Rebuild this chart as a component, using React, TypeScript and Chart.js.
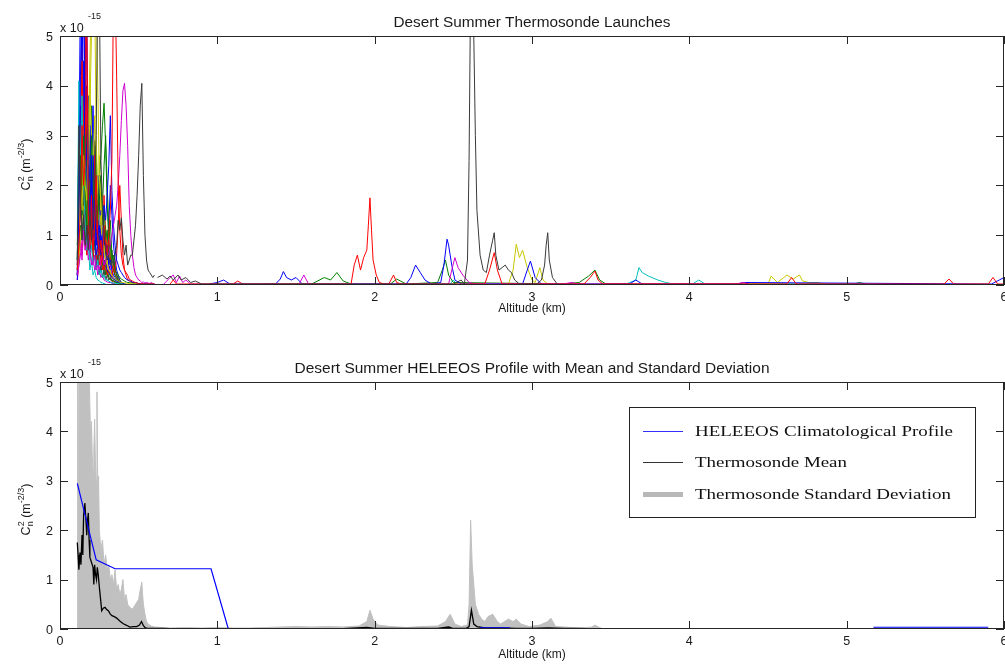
import React, { useEffect, useRef } from 'react';
import { Chart, registerables } from 'chart.js';

Chart.register(...registerables);

// ---------- axis ticks ----------
const xTicks = [0, 1, 2, 3, 4, 5, 6];
const yTicks = [0, 1, 2, 3, 4, 5];

// ---------- top chart: thermosonde launches (altitude km, Cn2 in units of 1e-15) ----------
// shared altitude grid of the near-ground part of every launch
const lowAlt = [0.11,0.12,0.13,0.14,0.15,0.16,0.17,0.18,0.19,0.2,0.21,0.22,0.23,0.24,0.25,0.26,0.27,0.28,0.29,0.3,0.31,0.32,0.33,0.34,0.35,0.36,0.37,0.38,0.39,0.4,0.41,0.42,0.43,0.44,0.45,0.46,0.47,0.48,0.49,0.5,0.51,0.52,0.53,0.54,0.55,0.56,0.57,0.58,0.59,0.6];

const blackALow = [0.5,3.2,1.8,0.9,1.4,0.8,1.2,0.7,1.5,0.9, 1.3,2.0,3.0,6.0,6.0,2.5,1.6,1.0,0.7,0.5, 0.6,0.4,0.5,0.4,0.6,0.8,1.3,1.1,1.35,0.9, 0.6,0.8,0.4,0.5,0.6,0.6,0.9,1.2,1.8,2.6, 3.6,4.05,2.2,1.0,0.5,0.3,0.25,0.2,0.15,0.2];
const blackAHighAlt = [0.62,0.65,0.68,0.7,0.72,0.75,0.77,0.8,0.83,0.86,0.9, 2.5,2.55,2.57,2.59,2.6,2.61,2.62,2.63,2.64,2.65,2.67,2.69,2.71,2.73,2.75,2.76,2.77,2.79,2.81,2.83,2.85,2.87,2.89,2.92, 3.03,3.06,3.08,3.09,3.1,3.11,3.13,3.16];
const blackAHighVal = [0.15,0.2,0.12,0.18,0.1,0.2,0.1,0.15,0.05,0.08,0.02, 0.02,0.1,0.02,0.5,2.5,6.0,6.0,5.0,3.0,1.5,0.6,0.3,0.25,0.6,0.9,1.05,0.6,0.3,0.35,0.4,0.3,0.25,0.1,0.02, 0.02,0.1,0.4,0.8,1.05,0.5,0.15,0.02];

const redALow = [0.3,0.8,1.5,3.2,2.0,2.5,6.0,1.4,0.9,1.8, 0.7,1.2,2.2,1.0,0.6,0.9,0.5,1.2,0.8,0.6, 1.0,1.5,2.5,6.0,6.0,4.2,2.0,1.1,0.6,0.4, 0.3,0.25,0.2,0.12,0.1,0.08,0.06,0.05,0.04,0.03, 0.02,0.03,0.02,0.02,0.02,0.02,0.02,0.02,0.02,0.02];
const redAHighAlt = [0.7,0.72,0.74, 1.1,1.13,1.16, 1.85,1.87,1.89,1.91,1.93,1.95,1.96,1.97,1.98,1.99,2.01,2.03,2.06,2.09,2.12,2.14,2.17, 2.7,2.73,2.76,2.78,2.81, 3.33,3.37,3.4,3.42,3.45, 4.62,4.65,4.68, 5.62,5.65,5.68, 5.9,5.93,5.96,6.0];
const redAHighVal = [0.02,0.1,0.02, 0.02,0.08,0.02, 0.02,0.4,0.6,0.3,0.55,0.7,1.2,1.75,1.1,0.5,0.2,0.05,0.02,0.02,0.2,0.05,0.02, 0.02,0.3,0.65,0.3,0.02, 0.02,0.15,0.28,0.1,0.02, 0.02,0.15,0.02, 0.02,0.12,0.02, 0.02,0.15,0.02,0.02];

const magentaALow = [0.2,0.4,0.6,0.9,1.1,0.7,0.8,1.0,0.7,0.5, 0.4,0.6,0.3,0.4,0.3,0.5,0.6,0.4,0.5,0.6, 0.6,0.8,1.0,1.2,1.4,1.6,2.0,2.6,3.3,3.9, 4.05,3.6,2.8,1.6,1.0,0.6,0.35,0.2,0.15,0.1, 0.08,0.05,0.06,0.04,0.05,0.04,0.03,0.05,0.03,0.02];
const magentaAHighAlt = [0.66,0.7,0.72,0.74,0.76,0.78,0.8,0.83, 1.52,1.55,1.58, 2.47,2.49,2.51,2.53,2.56,2.6,2.64, 3.2,3.25,3.3, 4.3,4.34,4.38];
const magentaAHighVal = [0.02,0.15,0.2,0.05,0.18,0.05,0.1,0.02, 0.02,0.2,0.02, 0.02,0.3,0.55,0.35,0.2,0.05,0.02, 0.02,0.05,0.02, 0.02,0.05,0.02];

const blueALow = [0.2,1.5,4.2,6.0,6.0,3.1,5.5,2.0,1.2,2.6, 1.1,1.7,0.8,1.3,0.6,1.0,0.8,1.6,1.3,1.8, 2.4,3.4,1.9,1.2,0.8,0.5,0.4,0.3,0.25,0.2, 0.15,0.12,0.1,0.1,0.08,0.06,0.05,0.05,0.04,0.03, 0.03,0.02,0.02,0.03,0.02,0.02,0.02,0.02,0.02,0.02];
const blueAHighAlt = [0.95,1.0,1.04,1.08, 1.37,1.4,1.42,1.44,1.47,1.5,1.54, 2.2,2.23,2.26,2.29,2.32,2.36,2.42,2.44,2.46,2.47,2.49,2.51,2.55, 2.94,2.97,2.99,3.02,3.06, 3.62,3.66,3.7, 4.3,4.35, 5.88,5.92,5.97,6.0];
const blueAHighVal = [0.02,0.05,0.1,0.02, 0.02,0.12,0.27,0.15,0.1,0.15,0.02, 0.02,0.15,0.4,0.25,0.1,0.02,0.05,0.4,0.92,0.8,0.4,0.1,0.02, 0.02,0.3,0.48,0.15,0.02, 0.02,0.1,0.02, 0.02,0.05, 0.02,0.02,0.1,0.15];

const yellowALow = [0.3,0.8,2.0,1.5,2.6,2.0,1.7,3.1,4.5,6.0, 6.0,6.0,6.0,4.0,2.2,1.6,1.0,0.7,0.5,0.4, 0.3,0.25,0.2,0.15,0.12,0.1,0.08,0.06,0.05,0.05, 0.04,0.04,0.03,0.03,0.03,0.02,0.02,0.03,0.02,0.02, 0.02,0.02,0.02,0.02,0.02,0.02,0.02,0.02,0.02,0.02];
const yellowAHighAlt = [2.85,2.88,2.9,2.92,2.94,2.97,3.0,3.02,3.05,3.07,3.1, 4.5,4.52,4.56,4.6,4.62,4.66,4.7,4.72,4.76,4.82,4.85];
const yellowAHighVal = [0.02,0.3,0.82,0.55,0.7,0.35,0.1,0.05,0.35,0.1,0.02, 0.02,0.18,0.05,0.15,0.2,0.12,0.2,0.08,0.05,0.05,0.02];

const greenALow = [0.5,1.8,2.6,1.4,3.0,2.0,1.2,2.4,1.5,3.0, 1.9,1.0,1.6,1.2,2.1,2.6,3.2,3.65,2.8,1.6, 0.9,1.3,0.6,0.5,0.3,0.25,0.2,0.15,0.12,0.1, 0.08,0.06,0.05,0.05,0.04,0.04,0.03,0.03,0.02,0.02, 0.02,0.02,0.02,0.02,0.02,0.02,0.02,0.02,0.02,0.02];
const greenAHighAlt = [1.3,1.6,1.68,1.72,1.76,1.8,1.85, 2.1,2.14,2.2, 2.4,2.43,2.45,2.47,2.5, 3.2,3.3,3.36,3.4,3.43,3.47,3.55, 5.05,5.08,5.12];
const greenAHighVal = [0.02,0.02,0.15,0.1,0.25,0.08,0.02, 0.02,0.12,0.02, 0.05,0.3,0.5,0.2,0.05, 0.02,0.05,0.18,0.3,0.1,0.02,0.02, 0.02,0.05,0.02];

const cyanALow = [1.0,4.1,2.5,3.8,2.0,1.2,0.7,1.0,0.5,0.8, 0.4,0.6,0.3,0.5,0.2,0.3,0.15,0.2,0.1,0.1, 0.08,0.06,0.05,0.04,0.04,0.03,0.03,0.02,0.02,0.02];
const cyanAHighAlt = [2.48,2.5,2.52, 3.6,3.66,3.68,3.7,3.74,3.8,3.85,3.9, 4.02,4.06,4.1];
const cyanAHighVal = [0.02,0.1,0.02, 0.02,0.1,0.35,0.25,0.18,0.1,0.05,0.02, 0.02,0.1,0.02];

const blueBLow = [0.1,2.5,6.0,4.5,6.0,2.8,2.0,1.6,1.2,1.7, 0.9,1.1,0.6,0.8,1.2,0.6,0.8,0.4,0.5,0.3, 0.25,0.2,0.15,0.12,0.1,0.08,0.06,0.05,0.04,0.03, 0.03,0.02];
const redBLow = [0.2,1.0,2.2,4.8,2.0,1.0,0.6,1.2,0.8,1.5, 0.5,2.6,1.2,0.7,0.9,0.4,0.6,0.3,0.5,0.2, 0.3,0.2,0.15,0.4,0.25,0.6,1.2,2.0,1.3,0.6, 0.3,0.2,0.1,0.08,0.06,0.05,0.04,0.03,0.03,0.02];
const greenBLow = [0.3,1.2,1.8,2.3,1.6,2.0,2.5,1.4,1.0,1.5, 0.8,1.2,1.9,1.0,0.6,0.8,0.4,0.5,0.2,0.3, 0.15,0.12,0.1,0.08,0.06,0.05,0.04,0.03,0.02,0.02];
const yellowBLow = [0.2,0.5,0.9,1.3,1.6,2.4,1.2,2.0,3.5,5.0, 6.0,6.0,3.0,1.8,1.0,1.4,0.6,0.8,0.4,0.5, 0.2,0.3,0.15,0.1,0.1,0.08,0.05,0.04,0.03,0.02];
const blackBLow = [0.4,2.9,1.8,1.0,1.3,1.9,0.8,1.4,0.6,1.0, 0.5,0.9,0.3,0.6,0.2,0.4,0.15,0.3,0.1,0.2, 0.1,0.15,0.08,0.1,0.06,0.05,0.04,0.03,0.02,0.02];
const magentaBLow = [0.1,0.4,0.9,0.5,1.1,0.7,0.9,0.5,0.7,0.4, 0.6,0.3,0.5,0.2,0.3,0.15,0.2,0.1,0.08,0.06, 0.05,0.05,0.04,0.03,0.02];
const cyanBLow = [0.5,3.2,1.5,2.2,0.9,1.4,0.6,0.8,0.3,0.5, 0.2,0.3,0.15,0.1,0.08,0.05,0.04,0.03,0.02];
const greenCLow = [0.2,0.6,1.2,0.9,1.6,2.2,1.4,0.8,1.3,0.9, 1.5,2.1,1.2,0.7,1.0,0.5,0.6,0.3,0.4,0.2, 0.3,0.15,0.1,0.08,0.05,0.04,0.03,0.02];
const blueCLow = [0.2,0.9,1.6,1.1,2.3,1.5,0.9,1.8,3.2,2.0, 1.4,1.9,1.0,1.6,0.8,1.2,0.6,0.9,0.5,0.7, 0.4,0.3,0.2,0.15,0.1,0.08,0.05,0.04,0.03,0.02];
const redCLow = [0.1,0.5,0.9,0.6,1.2,0.8,1.6,0.9,2.1,1.2, 0.7,1.0,0.5,0.8,0.4,0.6,0.3,0.5,0.2,0.3, 0.15,0.1,0.08,0.06,0.05,0.04,0.03,0.02];
const blueDLow = [0.3,2.2,3.6,2.8,4.5,3.0,2.4,3.8,2.0,1.4, 2.6,1.8,1.2,2.2,1.0,1.5,0.7,1.1,0.5,0.8, 0.4,0.5,0.3,0.2,0.15,0.1,0.08,0.05,0.04,0.03];
const greenDLow = [0.8,2.0,3.4,2.2,1.6,3.5,2.6,1.9,2.9,2.0, 2.4,1.5,2.8,1.3,1.8,2.2,1.2,1.6,0.9,1.1, 0.6,0.8,0.4,0.3,0.2,0.15,0.1,0.06,0.04,0.03];
const redDLow = [0.4,1.6,2.8,2.0,3.4,5.2,2.6,1.8,3.0,2.2, 1.4,2.0,1.1,1.6,0.9,1.3,0.7,1.8,1.0,0.6, 0.9,0.5,0.4,0.3,0.2,0.15,0.1,0.05,0.03,0.02];
const yellowDLow = [0.5,1.4,2.2,3.0,2.4,1.8,3.2,2.6,4.0,3.0, 2.2,3.4,2.0,1.5,2.6,1.2,1.8,0.9,1.2,0.7, 0.5,0.8,0.4,0.3,0.2,0.12,0.08,0.05,0.03,0.02];
const cyanDLow = [0.8,2.6,3.4,2.0,2.8,1.6,2.2,1.2,1.7,0.9, 1.3,0.7,1.0,0.5,0.6,0.3,0.4,0.2,0.15,0.1, 0.08,0.05,0.04,0.03,0.02];
const blackDLow = [0.6,2.0,3.0,2.2,1.5,2.7,1.8,2.4,1.3,2.0, 1.6,2.9,1.9,1.2,1.7,1.0,1.4,0.8,1.1,0.6, 0.9,0.5,0.7,0.4,0.3,0.2,0.15,0.1,0.05,0.03];
const magentaDLow = [0.3,0.9,1.8,1.2,2.4,1.6,2.0,1.3,2.6,1.5, 1.0,1.7,0.8,1.3,0.6,1.0,0.5,0.8,0.4,0.6, 0.3,0.4,0.2,0.15,0.1,0.05,0.03,0.02];
const blueELow = [0.2,1.0,3.0,5.0,3.6,2.2,4.0,2.8,1.6,2.4, 3.6,2.0,1.4,1.0,2.0,1.2,0.8,1.1,0.6,0.9, 1.2,2.0,1.4,0.8,0.5,0.3,0.2,0.1,0.05,0.03];
const greenELow = [0.4,1.1,1.9,2.6,3.8,2.4,1.7,3.0,2.2,3.6, 2.5,1.8,2.3,1.4,1.9,1.1,1.6,2.4,3.0,2.0, 1.2,0.8,0.5,0.6,0.3,0.2,0.1,0.06,0.04,0.02];

// ---------- bottom chart ----------
const heleeosAlt = [0.11,0.23,0.35,0.96,1.07,1.08,2.67,2.86,2.87,5.17,5.9];
const heleeosVal = [2.95,1.4,1.22,1.22,0,null,0.025,0.025,null,0.035,0.035];

const meanAlt = [0.11,0.115,0.12,0.127,0.133,0.14,0.145,0.15,0.158,0.165,0.17,0.175,0.18,0.185,0.19,0.2,0.21,0.215,0.22,0.226,0.232,0.237,0.243,0.25,0.258,0.265,0.275,0.286,0.295,0.307,0.32,0.33,0.345,0.36,0.38,0.4,0.42,0.444,0.465,0.487,0.505,0.518,0.53,0.54,0.56,0.6,0.65,0.7,0.8,0.9,1.0,1.2,1.5,1.8,1.95,2.0,2.2,2.4,2.47,2.5,2.58,2.6,2.615,2.63,2.65,2.7,2.8,2.9,3.0,3.1,3.2,3.3,3.4];
const meanVal = [1.75,1.5,1.2,1.55,1.3,1.9,1.5,2.3,2.55,2.2,1.9,2.2,2.35,1.8,1.45,1.35,1.25,0.9,1.3,1.1,1.0,1.25,1.1,0.85,0.6,0.37,0.42,0.44,0.4,0.37,0.3,0.27,0.25,0.22,0.16,0.11,0.08,0.04,0.05,0.05,0.08,0.15,0.07,0.03,0.01,0.01,0.01,0.005,0.005,0.005,0.005,0.005,0.005,0.005,0.03,0.01,0.01,0.01,0.04,0.01,0.01,0.05,0.38,0.1,0.05,0.02,0.02,0.01,0.01,0.02,0.01,0.01,0.0];

const stdAlt = [0.1099,0.11,0.112,0.114,0.117,0.12,0.122,0.125,0.13,0.14,0.15,0.16,0.17,0.18,0.19,0.195,0.2,0.205,0.21,0.215,0.22,0.225,0.23,0.235,0.24,0.245,0.25,0.26,0.27,0.28,0.29,0.3,0.31,0.32,0.33,0.34,0.35,0.36,0.37,0.38,0.39,0.4,0.41,0.42,0.43,0.44,0.46,0.48,0.5,0.51,0.52,0.525,0.53,0.54,0.55,0.56,0.58,0.6,0.65,0.7,0.8,0.9,1.0,1.1,1.2,1.3,1.4,1.5,1.6,1.7,1.8,1.9,1.95,1.97,1.99,2.02,2.1,2.2,2.3,2.4,2.45,2.48,2.51,2.55,2.59,2.6,2.61,2.62,2.63,2.64,2.66,2.68,2.7,2.72,2.75,2.78,2.8,2.85,2.88,2.9,2.93,2.98,3.05,3.1,3.12,3.15,3.3,3.38,3.4,3.43,3.45];
const stdVal = [0,3.5,2.2,6.0,3.0,6.0,5.0,6.0,6.0,6.0,6.0,6.0,6.0,6.0,4.5,3.8,4.2,3.5,3.2,3.6,4.25,3.4,3.0,4.8,2.8,3.1,2.0,1.6,1.8,1.3,1.5,1.2,1.3,1.0,1.1,0.9,1.2,0.8,0.9,0.7,0.8,1.0,0.6,0.7,0.5,0.45,0.4,0.5,0.6,0.8,0.95,0.7,0.5,0.3,0.15,0.1,0.06,0.04,0.03,0.02,0.03,0.02,0.03,0.02,0.02,0.03,0.04,0.05,0.04,0.05,0.04,0.06,0.15,0.38,0.2,0.08,0.05,0.03,0.05,0.06,0.15,0.3,0.1,0.05,0.08,0.5,2.2,1.3,0.9,0.5,0.3,0.2,0.15,0.25,0.3,0.15,0.1,0.2,0.15,0.2,0.1,0.05,0.08,0.15,0.22,0.05,0.02,0.04,0.08,0.03,0];

// ---------- text ----------
const topTitle = 'Desert Summer Thermosonde Launches';
const bottomTitle = 'Desert Summer HELEEOS Profile with Mean and Standard Deviation';
const xAxisLabel = 'Altitude (km)';
const legendLabels = ['HELEEOS Climatological Profile', 'Thermosonde Mean', 'Thermosonde Standard Deviation'];

const SANS = '"Liberation Sans", Arial, Helvetica, sans-serif';
const SERIF = '"Liberation Serif", "Times New Roman", serif';

const C = {
  blue: '#0000ff', green: '#008000', red: '#ff0000', cyan: '#00c0c0',
  magenta: '#d000d0', yellow: '#c8c800', black: '#3a3a3a', std: '#c0c0c0', mean: '#000000',
};

const pts = (alt: number[], val: (number | null)[]) => val.map((y, i) => ({ x: alt[i], y }));

function drawStretched(ctx: CanvasRenderingContext2D, text: string, x: number, y: number, target: number, align: 'left' | 'center') {
  const w = ctx.measureText(text).width;
  const s = target / w;
  ctx.save();
  const x0 = align === 'center' ? x - target / 2 : x;
  ctx.translate(x0, y);
  ctx.scale(s, 1);
  ctx.textAlign = 'left';
  ctx.fillText(text, 0, 0);
  ctx.restore();
}

const framePlugin = {
  id: 'matlabFrame',
  afterDraw(chart: any, _args: any, opts: any) {
    const { ctx, chartArea: a } = chart;
    const xs = chart.scales.x;
    const ys = chart.scales.y;
    ctx.save();
    ctx.textBaseline = 'alphabetic';
    if (opts.legend) {
      const lw = 347, lh = 111;
      const lx = a.right - 28 - lw;
      const ly = a.top + 25;
      ctx.fillStyle = '#ffffff';
      ctx.fillRect(lx, ly, lw, lh);
      ctx.strokeStyle = '#222';
      ctx.lineWidth = 1;
      ctx.strokeRect(lx + 0.5, ly + 0.5, lw - 1, lh - 1);
      const rows = [ly + 24, ly + 55, ly + 87];
      ctx.strokeStyle = '#3030ff';
      ctx.beginPath(); ctx.moveTo(lx + 14, rows[0] + 0.5); ctx.lineTo(lx + 54, rows[0] + 0.5); ctx.stroke();
      ctx.strokeStyle = '#333333';
      ctx.beginPath(); ctx.moveTo(lx + 14, rows[1] + 0.5); ctx.lineTo(lx + 54, rows[1] + 0.5); ctx.stroke();
      ctx.fillStyle = '#b8b8b8';
      ctx.fillRect(lx + 14, rows[2] - 2, 40, 5);
      ctx.fillStyle = '#111';
      ctx.font = `15px ${SERIF}`;
      const widths = [258, 152, 256];
      legendLabels.forEach((t, i) => drawStretched(ctx, t, lx + 66, rows[i] + 5, widths[i], 'left'));
    }
    // box
    ctx.strokeStyle = '#262626';
    ctx.lineWidth = 1;
    ctx.strokeRect(a.left + 0.5, a.top + 0.5, a.right - a.left - 1, a.bottom - a.top - 1);
    // inward ticks on all four sides
    ctx.beginPath();
    xTicks.forEach((v) => {
      const px = Math.round(xs.getPixelForValue(v)) + 0.5;
      ctx.moveTo(px, a.bottom); ctx.lineTo(px, a.bottom - 8);
      ctx.moveTo(px, a.top); ctx.lineTo(px, a.top + 8);
    });
    yTicks.forEach((v) => {
      const py = Math.round(ys.getPixelForValue(v)) + 0.5;
      ctx.moveTo(a.left, py); ctx.lineTo(a.left + 8, py);
      ctx.moveTo(a.right, py); ctx.lineTo(a.right - 8, py);
    });
    ctx.stroke();
    // tick labels
    ctx.fillStyle = '#1a1a1a';
    ctx.font = `12.5px ${SANS}`;
    ctx.textAlign = 'center';
    xTicks.forEach((v) => ctx.fillText(String(v), xs.getPixelForValue(v), a.bottom + 16));
    ctx.textAlign = 'right';
    yTicks.forEach((v) => ctx.fillText(String(v), a.left - 7, ys.getPixelForValue(v) + 4.5));
    // exponent multiplier
    ctx.textAlign = 'left';
    ctx.fillText('x 10', a.left, a.top - 4);
    ctx.font = `9px ${SANS}`;
    ctx.fillText('-15', a.left + 28, a.top - 17);
    // x label
    ctx.font = `12px ${SANS}`;
    ctx.textAlign = 'center';
    ctx.fillText(xAxisLabel, (a.left + a.right) / 2, a.bottom + opts.xLabelGap);
    // title
    ctx.font = `14px ${SANS}`;
    drawStretched(ctx, opts.title, (a.left + a.right) / 2, a.top - 9, opts.titleWidth, 'center');
    // y label: C_n^2 (m^-2/3)
    ctx.save();
    ctx.translate(a.left - 30, (a.top + a.bottom) / 2 + 4);
    ctx.rotate(-Math.PI / 2);
    const big = `12.5px ${SANS}`;
    const small = `9px ${SANS}`;
    ctx.font = big; const wC = ctx.measureText('C').width;
    ctx.font = small; const w2 = ctx.measureText('2').width; const wn = ctx.measureText('n').width;
    const wSup = ctx.measureText('-2/3').width;
    ctx.font = big; const wM = ctx.measureText(' (m').width; const wP = ctx.measureText(')').width;
    const total = wC + Math.max(w2, wn) + wM + wSup + wP;
    let cx = -total / 2;
    ctx.textAlign = 'left';
    ctx.font = big; ctx.fillText('C', cx, 0); cx += wC;
    ctx.font = small; ctx.fillText('2', cx, -6); ctx.fillText('n', cx, 3); cx += Math.max(w2, wn);
    ctx.font = big; ctx.fillText(' (m', cx, 0); cx += wM;
    ctx.font = small; ctx.fillText('-2/3', cx, -6); cx += wSup;
    ctx.font = big; ctx.fillText(')', cx, 0);
    ctx.restore();
    ctx.restore();
  },
};

function baseOptions(padding: any, frame: any) {
  return {
    animation: false,
    responsive: false,
    events: [],
    layout: { padding },
    scales: {
      x: { type: 'linear', min: 0, max: 6, display: false },
      y: { type: 'linear', min: 0, max: 5, display: false },
    },
    elements: { point: { radius: 0 }, line: { tension: 0, borderWidth: 1 } },
    plugins: { legend: { display: false }, tooltip: { enabled: false }, title: { display: false }, matlabFrame: frame },
  };
}

export default function App() {
  const topRef = useRef<HTMLCanvasElement>(null);
  const botRef = useRef<HTMLCanvasElement>(null);

  useEffect(() => {
    const launches: { low: number[]; hiAlt?: number[]; hiVal?: number[]; color: string }[] = [
      { low: blackALow, hiAlt: blackAHighAlt, hiVal: blackAHighVal, color: C.black },
      { low: redALow, hiAlt: redAHighAlt, hiVal: redAHighVal, color: C.red },
      { low: magentaALow, hiAlt: magentaAHighAlt, hiVal: magentaAHighVal, color: C.magenta },
      { low: blueALow, hiAlt: blueAHighAlt, hiVal: blueAHighVal, color: C.blue },
      { low: yellowALow, hiAlt: yellowAHighAlt, hiVal: yellowAHighVal, color: C.yellow },
      { low: greenALow, hiAlt: greenAHighAlt, hiVal: greenAHighVal, color: C.green },
      { low: cyanALow, hiAlt: cyanAHighAlt, hiVal: cyanAHighVal, color: C.cyan },
      { low: blueBLow, color: C.blue },
      { low: redBLow, color: C.red },
      { low: greenBLow, color: C.green },
      { low: yellowBLow, color: C.yellow },
      { low: blackBLow, color: C.black },
      { low: magentaBLow, color: C.magenta },
      { low: cyanBLow, color: C.cyan },
      { low: greenCLow, color: C.green },
      { low: blueCLow, color: C.blue },
      { low: redCLow, color: C.red },
      { low: blueDLow, color: C.blue },
      { low: greenDLow, color: C.green },
      { low: redDLow, color: C.red },
      { low: yellowDLow, color: C.yellow },
      { low: cyanDLow, color: C.cyan },
      { low: blackDLow, color: C.black },
      { low: magentaDLow, color: C.magenta },
      { low: blueELow, color: C.blue },
      { low: greenELow, color: C.green },
    ];
    const topSets: any[] = [];
    launches.forEach((l) => {
      topSets.push({ data: pts(lowAlt, l.low), borderColor: l.color, borderWidth: 1, fill: false });
      if (l.hiAlt && l.hiVal) topSets.push({ data: pts(l.hiAlt, l.hiVal), borderColor: l.color, borderWidth: 1, fill: false });
    });
    const top = new Chart(topRef.current!, {
      type: 'line',
      data: { datasets: topSets },
      options: baseOptions({ left: 60, right: 16, top: 36, bottom: 49 }, { title: topTitle, titleWidth: 277, xLabelGap: 27 }) as any,
      plugins: [framePlugin],
    });
    const bot = new Chart(botRef.current!, {
      type: 'line',
      data: {
        datasets: [
          { data: pts(heleeosAlt, heleeosVal), borderColor: C.blue, borderWidth: 1.2, fill: false, spanGaps: false },
          { data: pts(meanAlt, meanVal), borderColor: C.mean, borderWidth: 1.3, fill: false },
          { data: pts(stdAlt, stdVal), borderColor: C.std, backgroundColor: C.std, borderWidth: 1, fill: 'origin' },
        ],
      },
      options: baseOptions({ left: 60, right: 16, top: 48, bottom: 39 }, { title: bottomTitle, titleWidth: 475, legend: true, xLabelGap: 29 }) as any,
      plugins: [framePlugin],
    });
    return () => { top.destroy(); bot.destroy(); };
  }, []);

  return (
    <div style={{ position: 'absolute', left: 0, top: 0, width: 1005, height: 668, overflow: 'hidden', background: '#ffffff' }}>
      <canvas ref={topRef} width={1020} height={334} style={{ position: 'absolute', left: 0, top: 0 }} />
      <canvas ref={botRef} width={1020} height={334} style={{ position: 'absolute', left: 0, top: 334 }} />
    </div>
  );
}
